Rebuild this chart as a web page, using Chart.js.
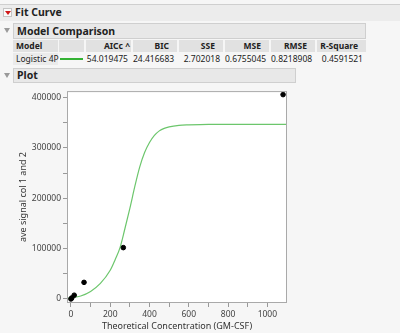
<!DOCTYPE html>
<html>
<head>
<meta charset="utf-8">
<script src="https://cdn.jsdelivr.net/npm/chart.js@4.4.1/dist/chart.umd.min.js"></script>
<style>
  body { margin: 0; width: 400px; height: 333px; background: #f6f6f6; font-family: "Noto Sans", sans-serif; color: #222; position: relative; overflow: hidden; }
  .bar { position: absolute; box-sizing: border-box; background: #e8e8e8; border: 1px solid #cfcfcf; font-weight: bold; font-size: 10.5px; line-height: 14px; padding-left: 3px; }
  .tri { position: absolute; left: 4px; width: 0; height: 0; border-left: 3.5px solid transparent; border-right: 3.5px solid transparent; border-top: 5px solid #9a9a9a; }
  .cell { position: absolute; box-sizing: border-box; height: 12px; font-size: 8.5px; line-height: 12px; text-align: right; padding-right: 3px; white-space: nowrap; }
  .hd { top: 40px; background: #e1e1e1; font-weight: bold; }
  .val { top: 53px; }
  #wrap { position: absolute; left: 0; top: 84px; width: 300px; height: 249px; }
</style>
</head>
<body>
<div class="bar" style="left:0;top:4px;width:400px;height:17px;border-width:1px 0 0 0;background:#ececec;padding-left:15px;">Fit Curve</div>
<div style="position:absolute;left:3px;top:8px;width:9px;height:9px;box-sizing:border-box;border:1px solid #c4c4c4;background:#fafafa;"></div>
<div style="position:absolute;left:4.5px;top:11px;width:0;height:0;border-left:3px solid transparent;border-right:3px solid transparent;border-top:4px solid #d01818;"></div>

<div class="tri" style="top:28px;"></div>
<div class="bar" style="left:13px;top:23px;width:353px;height:16px;">Model Comparison</div>
<div id="table"></div>

<div class="tri" style="top:73px;"></div>
<div class="bar" style="left:13px;top:68px;width:283px;height:15px;line-height:13px;">Plot</div>

<div id="wrap"><canvas id="fitChart" width="300" height="249"></canvas></div>

<script>
// points (concentration vs average signal)
const concentration = [0, 4.2, 16.7, 66.7, 266.7, 1080];
const signal = [0, 2000, 7500, 33000, 102000, 406000];

// fitted Logistic 4P curve
const fitX = [-20, 0, 50, 100, 150, 200, 225, 250, 275, 300, 325, 350, 375, 400, 425, 450, 475, 500, 550, 600, 700, 800, 900, 1000, 1100];
const fitY = [1500, 2500, 6000, 15000, 31000, 57000, 78000, 102000, 140000, 180000, 223000, 262000, 291000, 311000, 325000, 334000, 339000, 342000, 345000, 346000, 347000, 347000, 347000, 347000, 347000];

const xTicks = [0, 100, 200, 300, 400, 500, 600, 700, 800, 900, 1000];
const yTicks = [0, 50000, 100000, 150000, 200000, 250000, 300000, 350000, 400000];

const statNames = ["AICc ^", "BIC", "SSE", "MSE", "RMSE", "R-Square"];
const statValues = ["54.019475", "24.416683", "2.702018", "0.6755045", "0.8218908", "0.4591521"];

// table columns (left, right) in px
const cols = [[13, 58], [59, 84], [86, 131], [133, 177], [179, 223], [225, 269], [271, 315], [317, 366]];

function buildTable() {
  const t = document.getElementById("table");
  const add = (cls, c, text, extra) => {
    const d = document.createElement("div");
    d.className = "cell " + cls;
    d.style.left = c[0] + "px";
    d.style.width = (c[1] - c[0]) + "px";
    d.textContent = text;
    if (extra) Object.assign(d.style, extra);
    t.appendChild(d);
  };
  add("hd", cols[0], "Model", { textAlign: "left", paddingLeft: "3px" });
  add("hd", cols[1], "");
  statNames.forEach((s, i) => add("hd", cols[i + 2], s, { paddingRight: i === 0 ? "1px" : "8px" }));
  add("val", cols[0], "Logistic 4P", { textAlign: "left", paddingLeft: "3px", background: "#ebebeb" });
  const line = document.createElement("div");
  Object.assign(line.style, { position: "absolute", left: "60px", top: "58px", width: "23px", height: "2px", background: "#34b234" });
  t.appendChild(line);
  statValues.forEach((v, i) => add("val", cols[i + 2], v, { paddingRight: "3px" }));
}

const framePlugin = {
  id: "frame",
  beforeDraw(chart) {
    const a = chart.chartArea, ctx = chart.ctx;
    ctx.save();
    ctx.fillStyle = "#fff";
    ctx.fillRect(a.left, a.top, a.right - a.left, a.bottom - a.top);
    ctx.restore();
  },
  afterDraw(chart) {
    const a = chart.chartArea, ctx = chart.ctx;
    ctx.save();
    ctx.strokeStyle = "#a9a9a9";
    ctx.lineWidth = 1;
    ctx.strokeRect(a.left + 0.5, a.top + 0.5, a.right - a.left - 1, a.bottom - a.top - 1);
    ctx.restore();
  }
};

function renderFitChart() {
  const canvas = document.getElementById("fitChart");
  if (typeof Chart === "undefined") {
    console.error("Chart.js is not loaded");
    return;
  }
  Chart.defaults.font.family = '"Noto Sans", sans-serif';

  new Chart(canvas.getContext("2d"), {
    type: "scatter",
    data: {
      datasets: [
        {
          data: concentration.map((x, i) => ({ x, y: signal[i] })),
          backgroundColor: "#000",
          borderColor: "#000",
          pointRadius: 2.3,
          order: 0
        },
        {
          type: "line",
          data: fitX.map((x, i) => ({ x, y: fitY[i] })),
          borderColor: "#6cc66c",
          borderWidth: 1.2,
          pointRadius: 0,
          fill: false,
          cubicInterpolationMode: "monotone",
          order: 1
        }
      ]
    },
    options: {
      responsive: false,
      animation: false,
      layout: { padding: { top: 7, right: 13, left: 0, bottom: 0 } },
      plugins: { legend: { display: false }, tooltip: { enabled: false } },
      scales: {
        x: {
          type: "linear",
          min: -20,
          max: 1100,
          afterBuildTicks: s => { s.ticks = xTicks.map(v => ({ value: v })); },
          afterFit: s => { s.height = 30; },
          grid: { drawOnChartArea: false, tickLength: 4, color: "#999" },
          border: { display: false },
          ticks: {
            padding: 2, autoSkip: false, maxRotation: 0, color: "#444", font: { size: 8.5 },
            callback: v => (v % 200 === 0 ? String(v) : "")
          },
          title: { display: true, text: "Theoretical Concentration (GM-CSF)", color: "#333", font: { size: 9 }, padding: { top: 0, bottom: 1 } }
        },
        y: {
          min: -8000,
          max: 413000,
          afterBuildTicks: s => { s.ticks = yTicks.map(v => ({ value: v })); },
          afterFit: s => { s.width = 67; },
          grid: { drawOnChartArea: false, tickLength: 4, color: "#999" },
          border: { display: false },
          ticks: {
            padding: 2, autoSkip: false, color: "#444", font: { size: 8.5 },
            callback: v => (v % 100000 === 0 ? String(v) : "")
          },
          title: { display: true, text: "ave signal col 1 and 2", color: "#333", font: { size: 9 }, padding: { top: 18.5, bottom: 0 } }
        }
      }
    },
    plugins: [framePlugin]
  });
}

buildTable();
renderFitChart();
</script>
</body>
</html>
